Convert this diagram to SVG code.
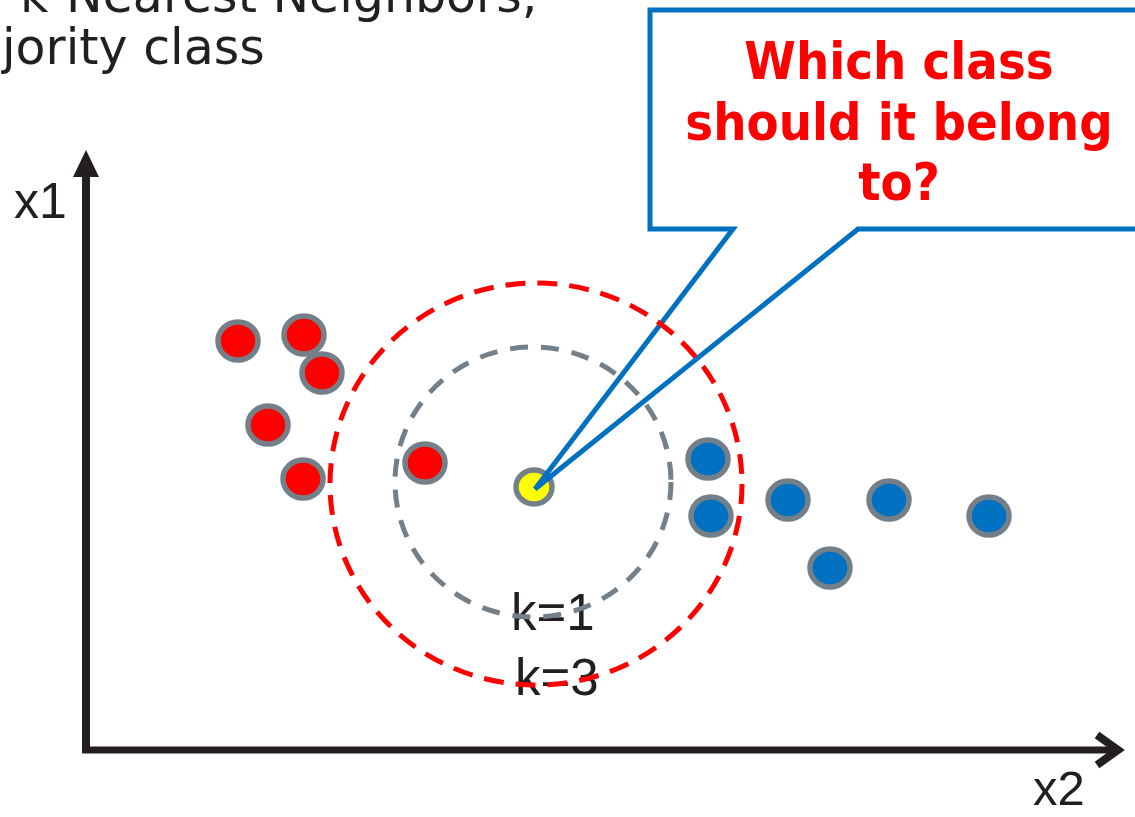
<svg xmlns="http://www.w3.org/2000/svg" width="1135" height="817" viewBox="0 0 1135 817">
  <defs>
    <style>
      .txt { font-family: "DejaVu Sans", "Liberation Sans", sans-serif; fill: #231F20; }
      .lbl { font-family: "Liberation Sans", "DejaVu Sans", sans-serif; fill: #231F20; }
      .q { font-family: "DejaVu Sans Condensed", "DejaVu Sans", "Liberation Sans", sans-serif; font-weight: bold; font-size: 52px; fill: #FF0000; text-anchor: middle; }
      .red { fill: #FF0000; stroke: #738089; stroke-width: 5.5; }
      .blue { fill: #0070C0; stroke: #738089; stroke-width: 5.5; }
      .yel { fill: #FFFF00; stroke: #738089; stroke-width: 5.5; }
      .axis { stroke: #231F20; fill: none; }
    </style>
  </defs>
  <rect width="1135" height="817" fill="#FFFFFF"/>

  <g id="title">
    <text class="txt" x="20" y="12" font-size="49">k-Nearest Neighbors,</text>
    <text class="txt" x="2" y="64" font-size="49">jority class</text>
  </g>

  <g id="connectors">
    <line class="axis" x1="86" y1="753" x2="86" y2="172" stroke-width="8"/>
    <polygon points="86,150 73,177 99,177" fill="#231F20"/>
    <line class="axis" x1="82" y1="750" x2="1114" y2="750" stroke-width="7"/>
    <polyline class="axis" points="1097,735 1118,750 1097,765" stroke-width="8" stroke-linejoin="miter"/>
  </g>

  <g id="axis-labels">
    <text class="lbl" x="14" y="218" font-size="50">x1</text>
    <text class="lbl" x="1033" y="805" font-size="49">x2</text>
  </g>

  <g id="k-labels">
    <text class="lbl" x="511" y="630" font-size="51">k=1</text>
    <text class="lbl" x="515" y="695" font-size="51">k=3</text>
  </g>

  <g id="red-points">
    <g id="r1"><ellipse class="red" cx="238" cy="341" rx="20" ry="19"/></g>
    <g id="r2"><ellipse class="red" cx="304" cy="335" rx="20" ry="19"/></g>
    <g id="r3"><ellipse class="red" cx="322" cy="373" rx="20" ry="19"/></g>
    <g id="r4"><ellipse class="red" cx="268" cy="425" rx="20" ry="19"/></g>
    <g id="r5"><ellipse class="red" cx="303" cy="479" rx="20" ry="19"/></g>
    <g id="r6"><ellipse class="red" cx="425" cy="463" rx="20" ry="19"/></g>
  </g>

  <g id="blue-points">
    <g id="b1"><ellipse class="blue" cx="708" cy="459" rx="20" ry="19"/></g>
    <g id="b2"><ellipse class="blue" cx="711" cy="516" rx="20" ry="19"/></g>
    <g id="b3"><ellipse class="blue" cx="788" cy="500" rx="20" ry="19"/></g>
    <g id="b4"><ellipse class="blue" cx="889" cy="500" rx="20" ry="19"/></g>
    <g id="b5"><ellipse class="blue" cx="989" cy="516" rx="20" ry="19"/></g>
    <g id="b6"><ellipse class="blue" cx="830" cy="568" rx="20" ry="19"/></g>
  </g>

  <g id="query-point">
    <ellipse class="yel" cx="534" cy="487" rx="18" ry="17"/>
  </g>

  <g id="callout">
    <path d="M733,229 L650,229 L650,10 L1145,10 L1145,229 L858,229 L535,489 Z" fill="#FFFFFF" stroke="#0070C0" stroke-width="5" stroke-linejoin="miter" stroke-miterlimit="4"/>
    <text class="q" x="899" y="79">Which class</text>
    <text class="q" x="899" y="140">should it belong</text>
    <text class="q" x="899" y="200">to?</text>
  </g>

  <g id="k1-circle">
    <ellipse cx="533" cy="482" rx="138" ry="135" fill="none" stroke="#738089" stroke-width="5" stroke-dasharray="18 13"/>
  </g>
  <g id="k3-circle">
    <ellipse cx="536" cy="484" rx="206" ry="201" fill="none" stroke="#FF0000" stroke-width="5" stroke-dasharray="20 12"/>
  </g>
</svg>
